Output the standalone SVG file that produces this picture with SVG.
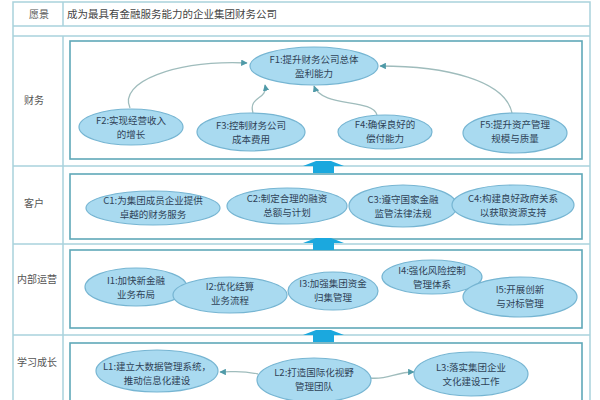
<svg xmlns="http://www.w3.org/2000/svg" width="600" height="400" viewBox="0 0 600 400">
<defs>
<style>
.tbl{fill:none;stroke:#a9d2dc;stroke-width:1.5}
.box{fill:#fff;stroke:#5fa8b8;stroke-width:1.6}
.nd ellipse{fill:#a9daf0;stroke:#76b5d2;stroke-width:1.2}
.nd text{font-family:"Noto Sans CJK SC","Liberation Sans",sans-serif;font-size:9.5px;fill:#2f4257;text-anchor:middle}
.lbl{font-family:"Noto Sans CJK SC","Liberation Sans",sans-serif;font-size:10px;fill:#555;text-anchor:middle}
.con{fill:none;stroke:#9fbcbc;stroke-width:1.3;marker-end:url(#ah)}
.up{fill:#1ba8de}
</style>
<marker id="ah" viewBox="0 0 10 10" refX="9" refY="5" markerWidth="5" markerHeight="5" orient="auto">
<path d="M0,0 L10,5 L0,10 z" fill="#4f9aa8"/>
</marker>
<polygon id="upArrow" class="up" points="-10,6 -10,-1 -20,-1 -7,-6 8,-6 21,-1 11,-1 11,6"/>
</defs>
<rect width="600" height="400" fill="#fff"/>
<g id="table">
<rect class="tbl" x="13" y="2" width="577" height="420"/>
<line class="tbl" x1="13" y1="26" x2="590" y2="26"/>
<line class="tbl" x1="13" y1="36" x2="590" y2="36"/>
<line class="tbl" x1="13" y1="166" x2="590" y2="166"/>
<line class="tbl" x1="13" y1="244" x2="590" y2="244"/>
<line class="tbl" x1="13" y1="335" x2="590" y2="335"/>
<line class="tbl" x1="63" y1="2" x2="63" y2="26"/>
<line class="tbl" x1="63" y1="36" x2="63" y2="400"/>
<text class="lbl" x="39" y="18">愿景</text>
<text x="67" y="18" style="font-family:'Noto Sans CJK SC','Liberation Sans',sans-serif;font-size:10.5px;fill:#444">成为最具有金融服务能力的企业集团财务公司</text>
<text class="lbl" x="34" y="104">财务</text>
<text class="lbl" x="34" y="207">客户</text>
<text class="lbl" x="37" y="283">内部运营</text>
<text class="lbl" x="37" y="366">学习成长</text>
<rect class="box" x="70" y="41" width="512" height="118"/>
<rect class="box" x="70" y="174" width="512" height="65"/>
<rect class="box" x="70" y="250" width="512" height="78"/>
<rect class="box" x="70" y="343" width="512" height="70"/>
</g>
<g id="connectors">
<path class="con" d="M130,108 C118,82 175,60 247,63"/>
<path class="con" d="M253,113 C248,96 268,100 265,85"/>
<path class="con" d="M377,115 C372,98 322,108 314,86"/>
<path class="con" d="M512,113 C505,80 445,66 380,66"/>
<path class="con" d="M258,374 C240,370 235,372 220,372"/>
<path class="con" d="M370,378 C388,380 395,372 414,372"/>
<use href="#upArrow" x="323" y="167"/>
<use href="#upArrow" x="323" y="244"/>
<use href="#upArrow" x="323" y="336"/>
</g>
<g id="F1" class="nd"><ellipse cx="314" cy="66" rx="64" ry="19"/><text x="314" y="63">F1:提升财务公司总体</text><text x="314" y="77">盈利能力</text></g>
<g id="F2" class="nd"><ellipse cx="131" cy="127" rx="52" ry="18"/><text x="131" y="124">F2:实现经营收入</text><text x="131" y="138">的增长</text></g>
<g id="F3" class="nd"><ellipse cx="251" cy="132" rx="54" ry="19"/><text x="251" y="129">F3:控制财务公司</text><text x="251" y="143">成本费用</text></g>
<g id="F4" class="nd"><ellipse cx="385" cy="132" rx="47" ry="17"/><text x="385" y="128">F4:确保良好的</text><text x="385" y="142">偿付能力</text></g>
<g id="F5" class="nd"><ellipse cx="515" cy="133" rx="52" ry="20"/><text x="515" y="128">F5:提升资产管理</text><text x="515" y="142">规模与质量</text></g>
<g id="C1" class="nd"><ellipse cx="153" cy="208" rx="67" ry="17"/><text x="153" y="204">C1:为集团成员企业提供</text><text x="153" y="218">卓越的财务服务</text></g>
<g id="C2" class="nd"><ellipse cx="287" cy="206" rx="60" ry="18"/><text x="287" y="202">C2:制定合理的融资</text><text x="287" y="216">总额与计划</text></g>
<g id="C3" class="nd"><ellipse cx="403" cy="206" rx="54" ry="21"/><text x="403" y="203">C3:遵守国家金融</text><text x="403" y="217">监管法律法规</text></g>
<g id="C4" class="nd"><ellipse cx="513" cy="205" rx="61" ry="20"/><text x="513" y="202">C4:构建良好政府关系</text><text x="513" y="216">以获取资源支持</text></g>
<g id="I1" class="nd"><ellipse cx="136" cy="287" rx="51" ry="19"/><text x="136" y="284">I1:加快新金融</text><text x="136" y="298">业务布局</text></g>
<g id="I2" class="nd"><ellipse cx="230" cy="295" rx="57" ry="18"/><text x="230" y="290">I2:优化结算</text><text x="230" y="304">业务流程</text></g>
<g id="I3" class="nd"><ellipse cx="333" cy="291" rx="45" ry="19"/><text x="333" y="287">I3:加强集团资金</text><text x="333" y="301">归集管理</text></g>
<g id="I4" class="nd"><ellipse cx="432" cy="277" rx="50" ry="17"/><text x="432" y="274">I4:强化风险控制</text><text x="432" y="288">管理体系</text></g>
<g id="I5" class="nd"><ellipse cx="520" cy="297" rx="57" ry="20"/><text x="520" y="293">I5:开展创新</text><text x="520" y="307">与对标管理</text></g>
<g id="L1" class="nd"><ellipse cx="157" cy="371" rx="61" ry="21"/><text x="157" y="370">L1:建立大数据管理系统，</text><text x="157" y="384">推动信息化建设</text></g>
<g id="L2" class="nd"><ellipse cx="314" cy="380" rx="57" ry="22"/><text x="314" y="376">L2:打造国际化视野</text><text x="314" y="390">管理团队</text></g>
<g id="L3" class="nd"><ellipse cx="471" cy="374" rx="57" ry="22"/><text x="471" y="371">L3:落实集团企业</text><text x="471" y="385">文化建设工作</text></g>
</svg>
